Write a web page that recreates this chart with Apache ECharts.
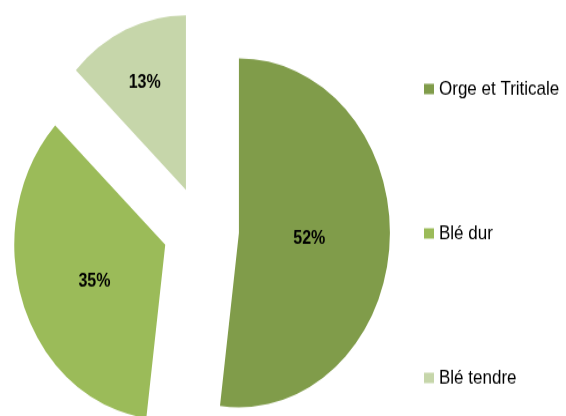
<!DOCTYPE html>
<html>
<head>
<meta charset="utf-8">
<script src="https://cdn.jsdelivr.net/npm/echarts@6/dist/echarts.min.js"></script>
<style>
  html, body { margin: 0; padding: 0; background: #ffffff; overflow: hidden; }
  #wrap { width: 566px; height: 416px; overflow: hidden; }
  /* The pie is drawn slightly taller than wide: the chart is laid out in
     a 566x360 box and stretched vertically to 416px. */
  #chart { width: 566px; height: 360px; transform-origin: 0 0; transform: scaleY(1.1556); }
</style>
</head>
<body>
<div id="wrap"><div id="chart"></div></div>
<script>
// Share of cereal area by crop (%)
const categories = ['Orge et Triticale', 'Blé dur', 'Blé tendre'];
const values = [52, 35, 13];
const colors = ['#809C4A', '#9BBB59', '#C6D6AA'];

const chart = echarts.init(document.getElementById('chart'), null, { renderer: 'canvas' });

const data = categories.map((name, i) => ({
  name: name,
  value: values[i],
  selected: true,
  itemStyle: { color: colors[i] }
}));

chart.setOption({
  animation: false,
  backgroundColor: '#ffffff',
  legend: {
    orient: 'vertical',
    left: 424,
    top: 67,
    padding: 0,
    itemWidth: 10,
    itemHeight: 9,
    itemGap: 105,
    icon: 'rect',
    selectedMode: false,
    data: categories,
    textStyle: {
      fontFamily: 'Liberation Sans, Arial, sans-serif',
      fontSize: 17,
      lineHeight: 20,
      color: '#000000'
    }
  },
  series: [{
    type: 'pie',
    center: [201, 199],
    radius: 151,
    startAngle: 90,
    clockwise: true,
    selectedMode: 'multiple',
    selectedOffset: 38,
    avoidLabelOverlap: false,
    emphasis: { disabled: true },
    itemStyle: { borderWidth: 0 },
    label: {
      show: true,
      position: 'inside',
      formatter: '{c}%',
      fontFamily: 'Liberation Sans, Arial, sans-serif',
      fontWeight: 'bold',
      fontSize: 16,
      color: '#000000'
    },
    labelLine: { show: false },
    labelLayout: function (params) {
      // nudge the inside labels towards where they sit on the slices
      if (params.dataIndex === 0) return { dx: -8, dy: 0 };
      if (params.dataIndex === 1) return { dx: 3, dy: 5 };
      if (params.dataIndex === 2) return { dx: -10, dy: -20 };
      return {};
    },
    data: data
  }]
});
</script>
</body>
</html>
